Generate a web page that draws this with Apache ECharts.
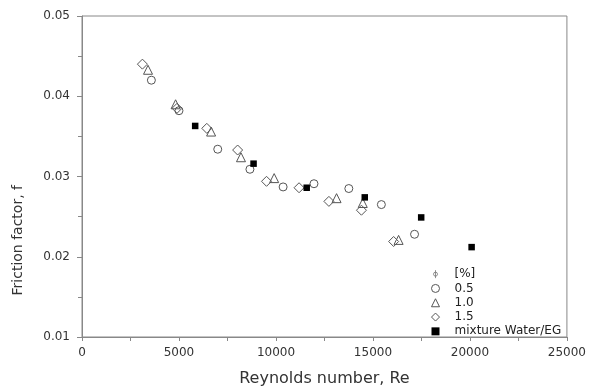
<!DOCTYPE html>
<html>
<head>
<meta charset="utf-8">
<script src="https://cdn.jsdelivr.net/npm/echarts@6/dist/echarts.min.js"></script>
<style>
  html, body { margin: 0; padding: 0; background: #fff; }
  #chart { width: 589px; height: 392px; }
</style>
</head>
<body>
<div id="chart"></div>
<script>
// values
var re05 = [3577, 5000, 6998, 8658, 10369, 11960, 13756, 15434, 17144];
var f05 = [0.0420, 0.0382, 0.0334, 0.0309, 0.0287, 0.0291, 0.0285, 0.0265, 0.0228];
var re10 = [3404, 4825, 6656, 8196, 9907, 13124, 14475, 16322];
var f10 = [0.0433, 0.0390, 0.0356, 0.0324, 0.0298, 0.0273, 0.0267, 0.0221];
var re15 = [3115, 4900, 6434, 8024, 9513, 11190, 12730, 14407, 16066];
var f15 = [0.0440, 0.0385, 0.0360, 0.0333, 0.0294, 0.0286, 0.0269, 0.0258, 0.0219];
var reBase = [5835, 8845, 11585, 14578, 17487, 20087];
var fBase = [0.0363, 0.0316, 0.0286, 0.0274, 0.0249, 0.0212];
var legendNames = ['[%]', '0.5', '1.0', '1.5', 'mixture Water/EG'];

function pairs(xs, ys) {
    var out = [];
    for (var i = 0; i < xs.length; i++) out.push([xs[i], ys[i]]);
    return out;
}

var FONT = 'DejaVu Sans';
var phiIcon = 'path://M4,0 L4,12 M1,6 A3,3 0 1 1 7,6 A3,3 0 1 1 1,6 Z';
var hollow = { color: 'rgba(0,0,0,0)', borderColor: '#555', borderWidth: 1, opacity: 1 };

var chart = echarts.init(document.getElementById('chart'));
chart.setOption({
    animation: false,
    backgroundColor: '#fff',
    textStyle: { fontFamily: FONT },
    grid: { left: 82, right: 20, top: 16, bottom: 52, show: true, borderColor: '#888', borderWidth: 1 },
    xAxis: {
        type: 'value', min: 0, max: 25000, interval: 5000,
        name: 'Reynolds number, Re', nameLocation: 'middle', nameGap: 34,
        nameTextStyle: { fontFamily: FONT, fontSize: 16, color: '#333' },
        axisLine: { lineStyle: { color: '#888' } },
        axisTick: { length: 4, lineStyle: { color: '#888' } },
        minorTick: { show: true, splitNumber: 2, length: 4, lineStyle: { color: '#888' } },
        axisLabel: { fontFamily: FONT, fontSize: 12, color: '#333', margin: 10,
            formatter: function (v) { return String(v); } },
        splitLine: { show: false }
    },
    yAxis: {
        type: 'value', min: 0.01, max: 0.05, interval: 0.01,
        axisLine: { show: true, lineStyle: { color: '#888' } },
        axisTick: { show: true, length: 5, lineStyle: { color: '#888' } },
        minorTick: { show: true, splitNumber: 2, length: 4, lineStyle: { color: '#888' } },
        axisLabel: { fontFamily: FONT, fontSize: 12, color: '#333', margin: 12,
            formatter: function (v) { return v.toFixed(2); } },
        splitLine: { show: false }
    },
    graphic: [{
        type: 'text', left: 11, top: 185,
        rotation: Math.PI / 2,
        style: { text: 'Friction factor, f', font: '14px "DejaVu Sans"', fill: '#333' }
    }],
    legend: {
        orient: 'vertical', left: 431, top: 267, padding: 0,
        itemWidth: 8, itemHeight: 8, itemGap: 0,
        itemStyle: { borderWidth: 1 },
        textStyle: { fontFamily: FONT, fontSize: 12, color: '#222', lineHeight: 14.3, padding: [0, 0, 0, 10] },
        data: [
            { name: legendNames[0], icon: phiIcon },
            { name: legendNames[1], icon: 'circle' },
            { name: legendNames[2], icon: 'triangle' },
            { name: legendNames[3], icon: 'diamond' },
            { name: legendNames[4], icon: 'rect' }
        ]
    },
    series: [
        { name: legendNames[0], type: 'scatter', data: [], itemStyle: { color: 'rgba(0,0,0,0)', borderColor: '#777', borderWidth: 1 } },
        { name: legendNames[1], type: 'scatter', symbol: 'circle', symbolSize: 8, itemStyle: hollow, data: pairs(re05, f05) },
        { name: legendNames[2], type: 'scatter', symbol: 'triangle', symbolSize: 9, itemStyle: hollow, data: pairs(re10, f10) },
        { name: legendNames[3], type: 'scatter', symbol: 'diamond', symbolSize: 10, itemStyle: hollow, data: pairs(re15, f15) },
        { name: legendNames[4], type: 'scatter', symbol: 'rect', symbolSize: 6.5, itemStyle: { color: '#000', opacity: 1 }, data: pairs(reBase, fBase) }
    ]
});
</script>
</body>
</html>
